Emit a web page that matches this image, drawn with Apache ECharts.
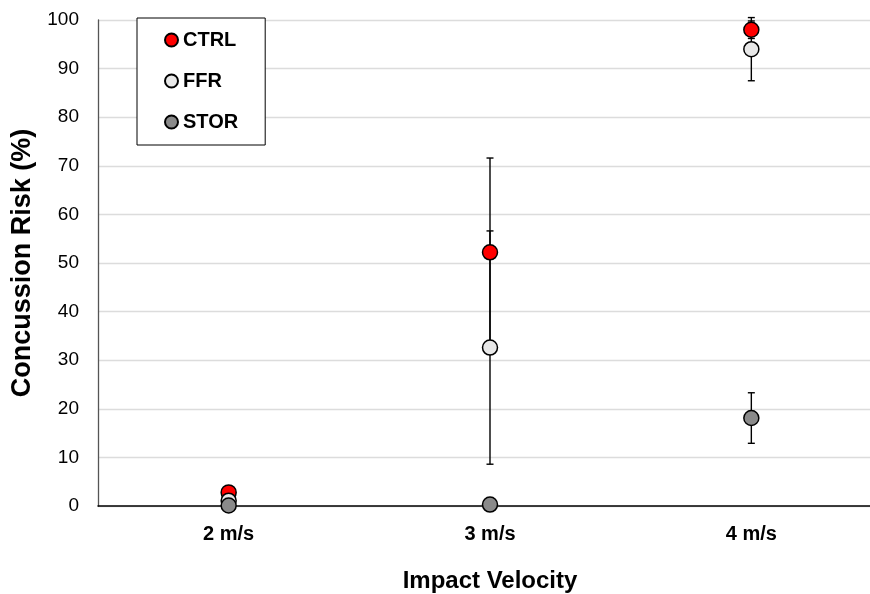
<!DOCTYPE html>
<html>
<head>
<meta charset="utf-8">
<script src="https://cdn.jsdelivr.net/npm/echarts@6/dist/echarts.min.js"></script>
<style>
  html, body { margin: 0; padding: 0; background: #fff; }
  #chart { width: 870px; height: 594px; }
</style>
</head>
<body>
<div id="chart"></div>
<script>
// categories and values
var velocities = ['2 m/s', '3 m/s', '4 m/s']
var ctrlMean = [2.8, 52.2, 98.0]
var ctrlErr = [0, 19.4, 1.8]
var ffrMean = [1.1, 32.6, 94.0]
var ffrErr = [0, 24.0, 6.5]
var storMean = [0.1, 0.3, 18.1]
var storErr = [0, 0, 5.2]
var yTicks = [0, 10, 20, 30, 40, 50, 60, 70, 80, 90, 100]

var FONT = '"Liberation Sans", Arial, sans-serif'

function errData(mean, err) {
  return mean.map(function (m, i) {
    return [i, m - err[i], m + err[i], err[i]]
  })
}

// error bar: vertical line + small caps
function renderErr(params, api) {
  if (api.value(3) <= 0) return null
  var x = api.value(0)
  var lo = api.coord([x, api.value(1)])
  var hi = api.coord([x, api.value(2)])
  var cap = 3.5
  var st = { stroke: '#000', lineWidth: 1.4 }
  return {
    type: 'group',
    children: [
      { type: 'line', shape: { x1: hi[0], y1: hi[1], x2: lo[0], y2: lo[1] }, style: st },
      { type: 'line', shape: { x1: hi[0] - cap, y1: hi[1], x2: hi[0] + cap, y2: hi[1] }, style: st },
      { type: 'line', shape: { x1: lo[0] - cap, y1: lo[1], x2: lo[0] + cap, y2: lo[1] }, style: st }
    ]
  }
}

function scatter(name, data, color, z) {
  return {
    name: name,
    type: 'scatter',
    data: data,
    symbol: 'circle',
    symbolSize: 15,
    z: z,
    itemStyle: { color: color, borderColor: '#000', borderWidth: 1.5, opacity: 1 },
    emphasis: { disabled: true }
  }
}

function errSeries(mean, err) {
  return {
    type: 'custom',
    renderItem: renderErr,
    data: errData(mean, err),
    z: 1,
    silent: true,
    encode: { x: 0, y: [1, 2] }
  }
}

var chart = echarts.init(document.getElementById('chart'))
chart.setOption({
  animation: false,
  backgroundColor: '#fff',
  textStyle: { fontFamily: FONT },
  grid: { left: 98, top: 20, width: 784, height: 486, containLabel: false, outerBoundsMode: 'none' },
  legend: {
    data: ['CTRL', 'FFR', 'STOR'],
    orient: 'vertical',
    left: 137,
    top: 18,
    padding: [12, 27, 13, 27],
    itemGap: 21,
    itemWidth: 13,
    itemHeight: 13,
    itemTextGap: 3,
    borderColor: '#000',
    borderWidth: 1,
    backgroundColor: '#fff',
    selectedMode: false,
    textStyle: { fontFamily: FONT, fontSize: 20, lineHeight: 20, fontWeight: 'bold', color: '#000' }
  },
  xAxis: {
    type: 'category',
    data: velocities,
    boundaryGap: true,
    name: 'Impact Velocity',
    nameLocation: 'middle',
    nameGap: 63,
    nameTextStyle: { fontFamily: FONT, fontSize: 24, fontWeight: 'bold', color: '#000' },
    axisLine: { lineStyle: { color: '#000', width: 1.5 } },
    axisTick: { show: false },
    axisLabel: { fontFamily: FONT, fontSize: 20, fontWeight: 'bold', color: '#000', margin: 18 },
    splitLine: { show: false }
  },
  yAxis: {
    type: 'value',
    min: yTicks[0],
    max: yTicks[yTicks.length - 1],
    interval: 10,
    name: 'Concussion Risk (%)',
    nameLocation: 'middle',
    nameGap: 57,
    nameTextStyle: { fontFamily: FONT, fontSize: 27, fontWeight: 'bold', color: '#000' },
    axisLine: { show: true, lineStyle: { color: '#555', width: 1.3 } },
    axisTick: { show: false },
    axisLabel: { fontFamily: FONT, fontSize: 19, color: '#000', margin: 19 },
    splitLine: { lineStyle: { color: '#dcdcdc', width: 1.3 } }
  },
  series: [
    errSeries(ctrlMean, ctrlErr),
    errSeries(ffrMean, ffrErr),
    errSeries(storMean, storErr),
    scatter('CTRL', ctrlMean, '#ff0000', 3),
    scatter('FFR', ffrMean, '#e8e8e8', 4),
    scatter('STOR', storMean, '#8a8a8a', 5)
  ]
})
</script>
</body>
</html>
